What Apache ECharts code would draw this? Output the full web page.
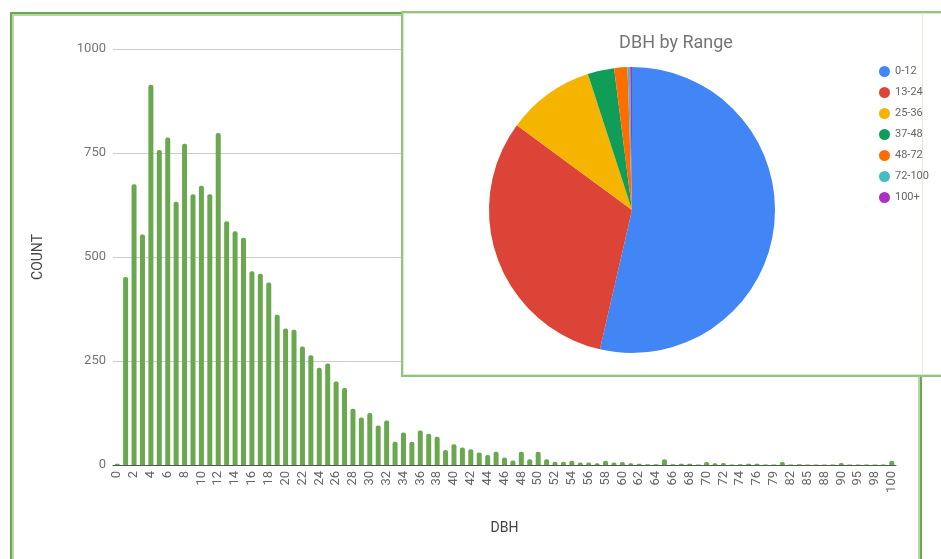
<!DOCTYPE html>
<html>
<head>
    <meta charset="utf-8">
    <title>DBH count</title>
    <script src="https://cdn.jsdelivr.net/npm/echarts@6/dist/echarts.min.js"></script>
    <style>
        html, body { margin: 0; padding: 0; background: #fff; overflow: hidden; }
        #bars { position: absolute; left: 0; top: 0; width: 941px; height: 559px; }
        #frame {
            position: absolute; left: 10px; top: 12px; width: 908px; height: 560px;
            border: 2px solid #6aa84f; box-shadow: inset 0 0 0 2px #b6d7a8;
            pointer-events: none;
        }
        #piebox {
            position: absolute; left: 401px; top: 11px; width: 600px; height: 362px;
            background: #fff; border: 2px solid #93c47d; box-shadow: inset 0 0 0 1px #d9ead3;
        }
        #pie { position: absolute; left: 0; top: 0; width: 540px; height: 362px; }
        #ghost { position: absolute; left: 519px; top: 0; width: 1px; height: 362px; background: #e3efdd; }
    </style>
</head>
<body>
    <div id="bars"></div>
    <div id="frame"></div>
    <div id="piebox"><div id="ghost"></div><div id="pie"></div></div>

    <script type="text/javascript">
        // DBH classes (categories on the x axis)
        var dbh = ['0','1','2','3','4','5','6','7','8','9','10','11','12','13','14','15','16','17','18','19',
                   '20','21','22','23','24','25','26','27','28','29','30','31','32','33','34','35','36','37','38','39',
                   '40','41','42','43','44','45','46','47','48','49','50','51','52','53','54','55','56','57','58','59',
                   '60','61','62','63','64','65','66','67','68','69','70','71','72','73','74','75','76',
                   '78','79','81','82','84','85','86','88','89','90','93','95','96','98','99','100'];

        // tree count per DBH class
        var counts = [3, 452, 675, 554, 914, 757, 787, 633, 772, 651, 671, 651, 798, 586, 562, 546, 466, 460, 439, 361,
                      328, 325, 285, 264, 234, 244, 201, 185, 135, 114, 125, 95, 107, 56, 78, 56, 83, 75, 68, 36,
                      50, 42, 38, 30, 24, 32, 18, 11, 32, 14, 32, 14, 8, 8, 10, 6, 6, 4, 10, 6,
                      7, 4, 3, 2, 2, 14, 2, 3, 3, 1, 7, 4, 5, 1, 2, 3, 3,
                      1, 1, 7, 1, 2, 1, 1, 1, 1, 5, 1, 1, 1, 1, 1, 10];

        // pie: share of trees per DBH range (%)
        var ranges = ['0-12', '13-24', '25-36', '37-48', '48-72', '72-100', '100+'];
        var shares = [53.6, 31.5, 9.9, 3.0, 1.5, 0.3, 0.2];
        var rangeColors = ['#4285f4', '#db4437', '#f4b400', '#0f9d58', '#ff6d00', '#46bdc6', '#ab30c4'];

        var font = 'Roboto, "Noto Sans", sans-serif';

        var barChart = echarts.init(document.getElementById('bars'));
        barChart.setOption({
            animation: false,
            textStyle: { fontFamily: font },
            grid: { left: 113, right: 45, top: 49, bottom: 94 },
            xAxis: {
                type: 'category',
                data: dbh,
                name: 'DBH',
                nameLocation: 'middle',
                nameGap: 56,
                nameTextStyle: { color: '#444', fontSize: 14, fontFamily: font },
                axisLine: { lineStyle: { color: '#555', width: 1 } },
                axisTick: { show: false },
                axisLabel: { interval: 1, rotate: 90, color: '#666', fontSize: 13, margin: 6, fontFamily: font }
            },
            yAxis: {
                type: 'value',
                min: 0,
                max: 1000,
                interval: 250,
                name: 'COUNT',
                nameLocation: 'middle',
                nameGap: 68,
                nameTextStyle: { color: '#444', fontSize: 14, fontFamily: font },
                axisLine: { show: false },
                axisTick: { show: false },
                axisLabel: {
                    color: '#757575', fontSize: 13, margin: 7, fontFamily: font,
                    formatter: function (v) { return String(v); }
                },
                splitLine: { lineStyle: { color: '#cccccc', width: 1 } }
            },
            series: [{
                type: 'bar',
                data: counts,
                barWidth: 5,
                itemStyle: { color: '#6aa84f', borderRadius: [2, 2, 0, 0] }
            }]
        });

        var pieData = [];
        for (var i = 0; i < ranges.length; i++) {
            pieData.push({ name: ranges[i], value: shares[i], itemStyle: { color: rangeColors[i] } });
        }

        var pieChart = echarts.init(document.getElementById('pie'));
        pieChart.setOption({
            animation: false,
            textStyle: { fontFamily: font },
            title: {
                text: 'DBH by Range',
                left: 268,
                top: 16,
                textAlign: 'center',
                textStyle: { color: '#757575', fontSize: 18, fontWeight: 'normal', fontFamily: font }
            },
            legend: {
                orient: 'vertical',
                left: 471,
                top: 48,
                icon: 'circle',
                itemWidth: 11,
                itemHeight: 11,
                itemGap: 10,
                data: ranges,
                textStyle: { color: '#666', fontSize: 11, fontFamily: font }
            },
            series: [{
                type: 'pie',
                center: [229, 197],
                radius: 143,
                startAngle: 90,
                clockwise: true,
                label: { show: false },
                labelLine: { show: false },
                data: pieData
            }]
        });
    </script>
</body>
</html>
